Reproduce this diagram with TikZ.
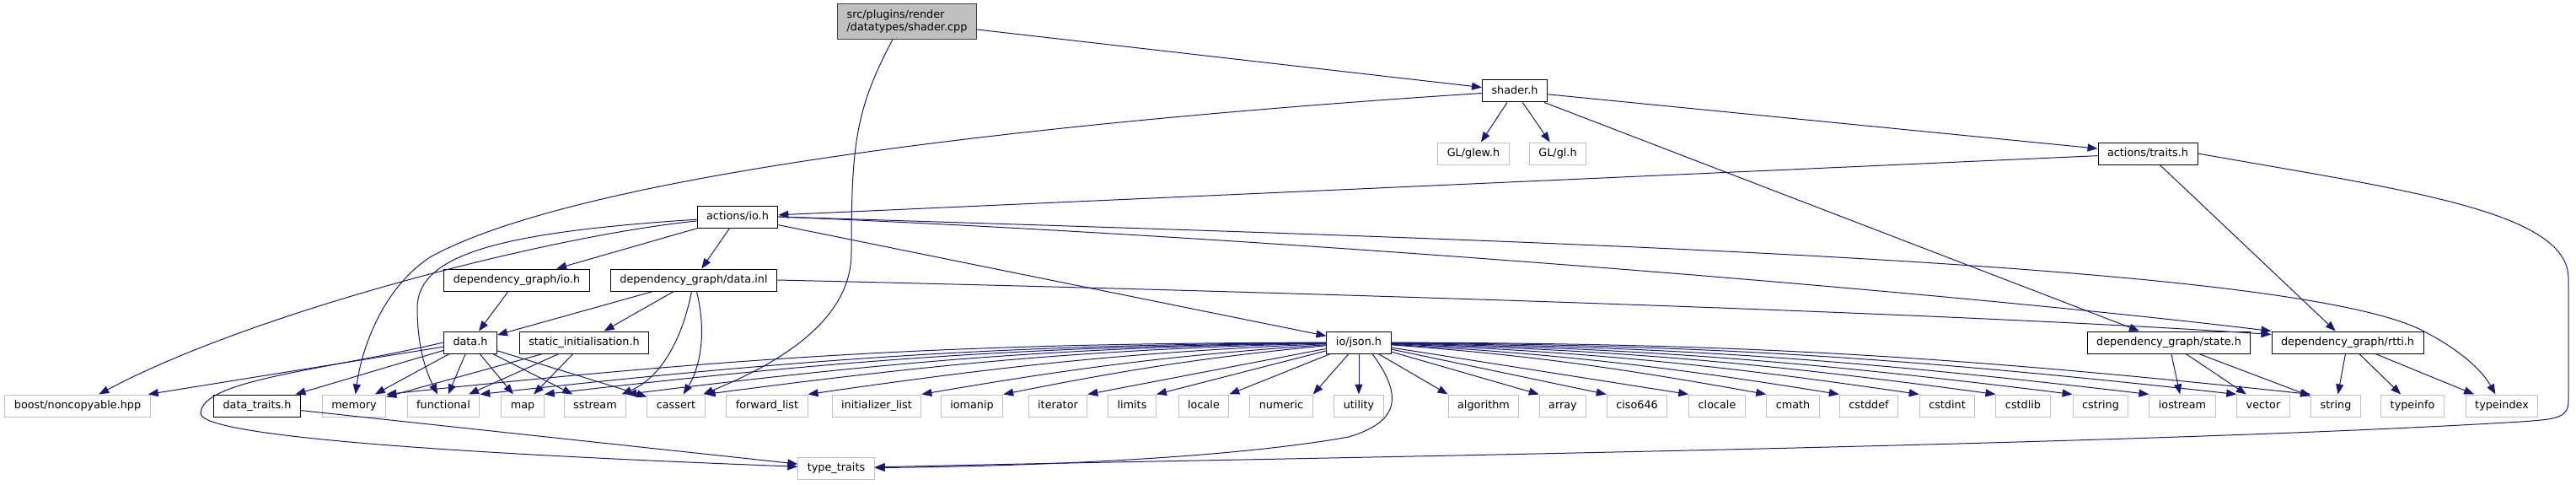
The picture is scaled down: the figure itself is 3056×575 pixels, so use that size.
\documentclass[tikz,border=0pt]{standalone}
\usepackage{fontspec}
\setmainfont{DejaVu Sans}
\usepackage{tikz}
\usetikzlibrary{arrows.meta}
\definecolor{edgeblue}{HTML}{191970}
\definecolor{extgrey}{HTML}{BFBFBF}
\definecolor{rootgrey}{HTML}{404040}
\tikzstyle{file} = [rectangle, draw=black, fill=white, line width=1pt, inner xsep=11pt, inner ysep=0pt, minimum height=26pt, text height=9.5pt, text depth=2.7pt, font=\fontsize{12.8}{15}\selectfont]
\tikzstyle{sysfile} = [file, draw=extgrey]
\tikzstyle{rootfile} = [rectangle, draw=rootgrey, fill=extgrey, line width=1pt, inner xsep=11pt, inner ysep=7pt, align=left, font=\fontsize{12.8}{15}\selectfont]
\tikzstyle{inc} = [draw=edgeblue, line width=1pt, -{Triangle[length=12pt, width=9pt]}]

\begin{document}
\begin{tikzpicture}[x=1pt, y=1pt]
  \useasboundingbox (0,0) rectangle (3056,-575);

  \node[rootfile] (shadercpp) at (1076,-25.5) {src/plugins/render\\/datatypes/shader.cpp};
  \node[file] (shaderh) at (1797,-108) {shader.h};
  \node[sysfile] (glew) at (1748,-182) {GL/glew.h};
  \node[sysfile] (gl) at (1848,-182) {GL/gl.h};
  \node[file] (traits) at (2548,-182) {actions/traits.h};
  \node[file] (actionsio) at (875,-257) {actions/io.h};
  \node[file] (dgio) at (613,-332) {dependency\_graph/io.h};
  \node[file] (datainl) at (823,-332) {dependency\_graph/data.inl};
  \node[file] (datah) at (558,-406) {data.h};
  \node[file] (staticinit) at (693,-406) {static\_initialisation.h};
  \node[file] (json) at (1612,-406) {io/json.h};
  \node[file] (dgstate) at (2573,-406) {dependency\_graph/state.h};
  \node[file] (dgrtti) at (2785,-406) {dependency\_graph/rtti.h};

  \node[sysfile] (boost) at (92,-481) {boost/noncopyable.hpp};
  \node[file] (datatraits) at (305,-481) {data\_traits.h};
  \node[sysfile] (memory) at (420,-481) {memory};
  \node[sysfile] (functional) at (526,-481) {functional};
  \node[sysfile] (map) at (620,-481) {map};
  \node[sysfile] (sstream) at (706,-481) {sstream};
  \node[sysfile] (cassert) at (802,-481) {cassert};
  \node[sysfile] (fwdlist) at (910,-481) {forward\_list};
  \node[sysfile] (initlist) at (1040,-481) {initializer\_list};
  \node[sysfile] (iomanip) at (1153,-481) {iomanip};
  \node[sysfile] (iterator) at (1255,-481) {iterator};
  \node[sysfile] (limits) at (1343,-481) {limits};
  \node[sysfile] (locale) at (1428,-481) {locale};
  \node[sysfile] (numeric) at (1520,-481) {numeric};
  \node[sysfile] (utility) at (1612,-481) {utility};
  \node[sysfile] (algorithm) at (1760,-481) {algorithm};
  \node[sysfile] (array) at (1854,-481) {array};
  \node[sysfile] (ciso) at (1942,-481) {ciso646};
  \node[sysfile] (clocale) at (2037,-481) {clocale};
  \node[sysfile] (cmath) at (2127,-481) {cmath};
  \node[sysfile] (cstddef) at (2217,-481) {cstddef};
  \node[sysfile] (cstdint) at (2310,-481) {cstdint};
  \node[sysfile] (cstdlib) at (2400,-481) {cstdlib};
  \node[sysfile] (cstring) at (2492,-481) {cstring};
  \node[sysfile] (iostream) at (2589,-481) {iostream};
  \node[sysfile] (vector) at (2685,-481) {vector};
  \node[sysfile] (string) at (2771,-481) {string};
  \node[sysfile] (typeinfo) at (2862,-481) {typeinfo};
  \node[sysfile] (typeindex) at (2968,-481) {typeindex};
  \node[sysfile] (typetraits) at (992,-555) {type\_traits};

  \draw[inc] (shadercpp) -- (shaderh);
  \draw[inc] ([xshift=-17pt]shadercpp.south) .. controls (1015,-130) and (1010,-170) .. (1010,-300) .. controls (1010,-390) and (900,-440) .. (cassert);

  \draw[inc] (shaderh) .. controls (1300,-140) and (700,-200) .. (510,-305) .. controls (450,-345) and (428,-420) .. (memory);
  \draw[inc] (shaderh) -- (glew);
  \draw[inc] (shaderh) -- (gl);
  \draw[inc] (shaderh) -- (traits);
  \draw[inc] (shaderh) -- (dgstate);

  \draw[inc] (traits) -- (actionsio);
  \draw[inc] (traits) -- (dgrtti);
  \draw[inc] (traits.east) .. controls (2850,-225) and (3047,-250) .. (3047,-330) -- (3047,-475) .. controls (3047,-495) and (3035,-497) .. (2990,-500) .. controls (2500,-530) and (1400,-545) .. (typetraits);

  \draw[inc] (actionsio) .. controls (650,-280) and (300,-370) .. (boost);
  \draw[inc] (actionsio) .. controls (600,-275) and (495,-300) .. (495,-365) .. controls (495,-410) and (505,-440) .. (functional);
  \draw[inc] (actionsio) -- (dgio);
  \draw[inc] (actionsio) -- (datainl);
  \draw[inc] (actionsio) -- (json);
  \draw[inc] (actionsio.east) .. controls (1500,-280) and (2300,-345) .. (dgrtti.north west);
  \draw[inc] (actionsio.east) .. controls (1800,-285) and (2700,-310) .. (2870,-390) .. controls (2920,-415) and (2945,-440) .. (typeindex);

  \draw[inc] (dgio) -- (datah);

  \draw[inc] (datainl) -- (datah);
  \draw[inc] (datainl) -- (staticinit);
  \draw[inc] (datainl) .. controls (812,-390) and (790,-445) .. (sstream);
  \draw[inc] (datainl) .. controls (840,-400) and (828,-440) .. (cassert);
  \draw[inc] (datainl.east) .. controls (1500,-345) and (2300,-370) .. ([yshift=-4pt]dgrtti.north west);

  \draw[inc] (datah) -- (boost);
  \draw[inc] (datah.west) .. controls (380,-440) and (240,-450) .. (238,-490) .. controls (238,-520) and (600,-540) .. (typetraits);
  \draw[inc] (datah) -- (datatraits);
  \draw[inc] (datah) -- (memory);
  \draw[inc] (datah) -- (functional);
  \draw[inc] (datah) -- (map);
  \draw[inc] (datah) -- (sstream);
  \draw[inc] (datah) -- (cassert);

  \draw[inc] (staticinit) -- (memory);
  \draw[inc] (staticinit) -- (functional);
  \draw[inc] (staticinit) -- (map);

  \draw[inc] (datatraits) -- (typetraits);

  \draw[inc] (json) .. controls +(-450,-1) and +(450,48) .. (memory.north east);
  \draw[inc] (json) .. controls +(-407,-3) and +(407,45) .. (functional.north east);
  \draw[inc] (json) .. controls +(-377,-5) and +(377,44) .. (map.north east);
  \draw[inc] (json) .. controls +(-339,-6) and +(339,42) .. (sstream.north east);
  \draw[inc] (json) .. controls +(-303,-8) and +(303,40) .. (cassert.north east);
  \draw[inc] (json) .. controls +(-255,-11) and +(255,37) .. (fwdlist.north east);
  \draw[inc] (json) .. controls +(-202,-14) and +(202,35) .. (initlist.north east);
  \draw[inc] (json) .. controls +(-165,-16) and +(165,33) .. (iomanip.north east);
  \draw[inc] (json) -- (iterator.north east);
  \draw[inc] (json) -- (limits.north east);
  \draw[inc] (json) -- (locale.north east);
  \draw[inc] (json) -- (numeric.north east);
  \draw[inc] (json) -- (utility);
  \draw[inc] ([xshift=16pt]json.south) .. controls (1665,-470) and (1660,-500) .. (1600,-518) .. controls (1450,-545) and (1200,-553) .. (typetraits);
  \draw[inc] (json) -- (algorithm.north west);
  \draw[inc] (json) -- (array.north west);
  \draw[inc] (json) -- (ciso.north west);
  \draw[inc] (json) -- (clocale.north west);
  \draw[inc] (json) .. controls +(189,-14) and +(-189,34) .. (cmath.north west);
  \draw[inc] (json) .. controls +(222,-13) and +(-222,36) .. (cstddef.north west);
  \draw[inc] (json) .. controls +(259,-11) and +(-259,38) .. (cstdint.north west);
  \draw[inc] (json) .. controls +(295,-9) and +(-295,40) .. (cstdlib.north west);
  \draw[inc] (json) .. controls +(330,-7) and +(-330,41) .. (cstring.north west);
  \draw[inc] (json) .. controls +(366,-5) and +(-366,43) .. (iostream.north west);
  \draw[inc] (json) .. controls +(406,-3) and +(-406,45) .. (vector.north west);
  \draw[inc] (json) .. controls +(441,-1) and +(-441,47) .. (string.north west);

  \draw[inc] (dgstate) -- (iostream);
  \draw[inc] (dgstate) -- (vector);
  \draw[inc] (dgstate) -- (string);

  \draw[inc] (dgrtti) -- (string);
  \draw[inc] (dgrtti) -- (typeinfo);
  \draw[inc] (dgrtti) -- (typeindex);
\end{tikzpicture}
\end{document}
